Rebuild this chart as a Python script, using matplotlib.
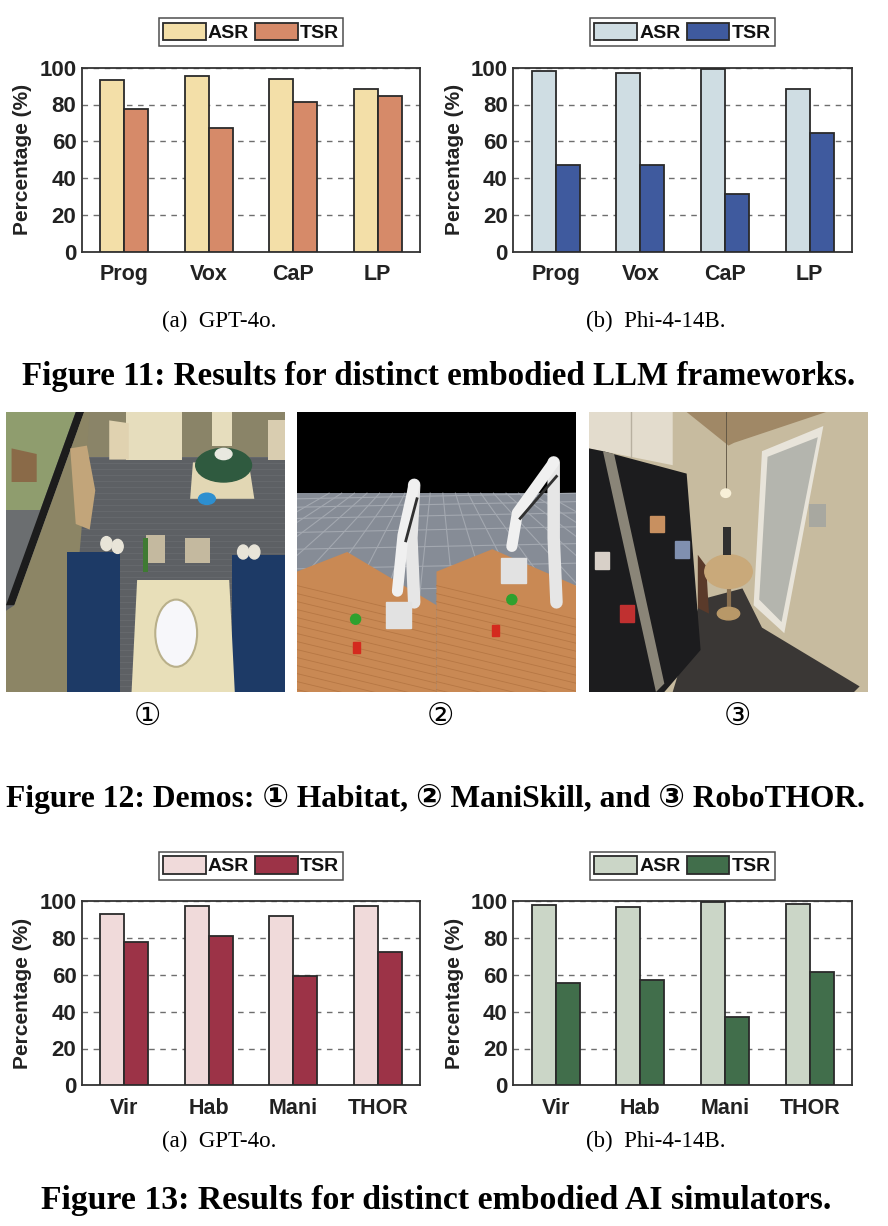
import matplotlib
matplotlib.use("Agg")
import matplotlib.pyplot as plt
from matplotlib.patches import Polygon, Ellipse, Rectangle, Circle
import numpy as np

# ---------------- data ----------------
frameworks = ["Prog", "Vox", "CaP", "LP"]
gpt_fw_asr = [93.1, 95.5, 94.0, 88.6]
gpt_fw_tsr = [77.7, 67.2, 81.2, 84.6]
phi_fw_asr = [98.2, 97.1, 99.5, 88.6]
phi_fw_tsr = [46.9, 47.1, 31.2, 64.5]

simulators = ["Vir", "Hab", "Mani", "THOR"]
gpt_sim_asr = [93.3, 97.5, 92.0, 97.6]
gpt_sim_tsr = [77.7, 81.0, 59.2, 72.5]
phi_sim_asr = [98.2, 97.1, 99.5, 98.7]
phi_sim_tsr = [55.8, 57.2, 37.1, 61.6]

yticks = [0, 20, 40, 60, 80, 100]
series_labels = ["ASR", "TSR"]

W, H = 888, 1226
fig = plt.figure(figsize=(W / 100, H / 100), dpi=100)

SANS = "Liberation Sans"
SERIF = ["Liberation Serif", "DejaVu Serif", "DejaVu Sans"]
EDGE = "#2a2a2a"


def box(x0, y0, x1, y1):
    return [x0 / W, 1 - y1 / H, (x1 - x0) / W, (y1 - y0) / H]


def bar_chart(rect, cats, asr, tsr, c_asr, c_tsr):
    ax = fig.add_axes(box(*rect))
    x = np.arange(len(cats))
    w = 0.285
    b1 = ax.bar(x - w / 2, asr, w, color=c_asr, edgecolor=EDGE, linewidth=1.3, zorder=3)
    b2 = ax.bar(x + w / 2, tsr, w, color=c_tsr, edgecolor=EDGE, linewidth=1.3, zorder=3)
    ax.set_xlim(-0.5, len(cats) - 0.5)
    ax.set_ylim(0, 100)
    ax.set_yticks(yticks)
    ax.set_xticks(x)
    ax.set_xticklabels(cats)
    ax.set_axisbelow(True)
    ax.yaxis.grid(True, linestyle=(0, (4, 4)), color="#6e6e6e", linewidth=1.0)
    for s in ax.spines.values():
        s.set_color("#333333")
        s.set_linewidth(1.3)
    ax.tick_params(length=0, pad=4, colors="#222222")
    ax.tick_params(axis="y", labelsize=16)
    ax.tick_params(axis="x", labelsize=15.5, pad=9)
    for lab in ax.get_xticklabels() + ax.get_yticklabels():
        lab.set_fontfamily(SANS)
        lab.set_fontweight("bold")
    ax.set_ylabel("Percentage (%)", fontfamily=SANS, fontweight="bold",
                  fontsize=15, color="#222222", labelpad=5)
    cx = (rect[0] + rect[2]) / 2
    leg = fig.legend([b1, b2], series_labels, loc="center",
                     bbox_to_anchor=(cx / W, 1 - (rect[1] - 35.5) / H),
                     ncol=2, frameon=True, fancybox=False, edgecolor="#222222",
                     handlelength=2.2, handleheight=1.0, handletextpad=0.12,
                     columnspacing=0.3, borderpad=0.22, borderaxespad=0,
                     prop={"family": SANS, "weight": "bold", "size": 14})
    leg.get_frame().set_linewidth(1.1)
    for t in leg.get_texts():
        t.set_color("#111111")
    return ax


bar_chart((82, 67.7, 420, 251.7), frameworks, gpt_fw_asr, gpt_fw_tsr, "#f3dfa8", "#d68a69")
bar_chart((513.3, 67.7, 852, 251.7), frameworks, phi_fw_asr, phi_fw_tsr, "#cfdde3", "#3f5a9e")
bar_chart((82, 901.3, 420, 1085.3), simulators, gpt_sim_asr, gpt_sim_tsr, "#f0dada", "#9c3347")
bar_chart((513.3, 901.3, 852, 1085.3), simulators, phi_sim_asr, phi_sim_tsr, "#cbd6c7", "#416e4b")


def ftext(x, y, s, **kw):
    fig.text(x / W, 1 - y / H, s, ha="center", va="center", **kw)


ftext(219, 321, "(a)  GPT-4o.", fontfamily=SERIF, fontsize=16.5)
ftext(656, 321, "(b)  Phi-4-14B.", fontfamily=SERIF, fontsize=16.5)
ftext(439, 377, "Figure 11: Results for distinct embodied LLM frameworks.",
      fontfamily=SERIF, fontweight="bold", fontsize=23.8)
ftext(219, 1141, "(a)  GPT-4o.", fontfamily=SERIF, fontsize=16.5)
ftext(656, 1141, "(b)  Phi-4-14B.", fontfamily=SERIF, fontsize=16.5)
ftext(436, 1201, "Figure 13: Results for distinct embodied AI simulators.",
      fontfamily=SERIF, fontweight="bold", fontsize=24.3)
ftext(147, 717, "\u2460", fontfamily=SERIF, fontsize=22)
ftext(440, 717, "\u2461", fontfamily=SERIF, fontsize=22)
ftext(737, 717, "\u2462", fontfamily=SERIF, fontsize=22)
ftext(435, 799, "Figure 12: Demos: \u2460 Habitat, \u2461 ManiSkill, and \u2462 RoboTHOR.",
      fontfamily=SERIF, fontweight="bold", fontsize=22.7)


# ---------------- demo pictures (schematic) ----------------
def panel(x0, x1):
    ax = fig.add_axes(box(x0, 412, x1, 692))
    ax.set_xlim(0, 1)
    ax.set_ylim(1, 0)
    ax.axis("off")
    return ax


def poly(ax, pts, color, z=1, **kw):
    ax.add_patch(Polygon(pts, closed=True, facecolor=color, edgecolor=kw.pop("ec", "none"),
                         zorder=z, **kw))


# Panel 1: Habitat
a = panel(6, 285)
poly(a, [(0, 0), (1, 0), (1, 1), (0, 1)], "#5d6064", 0)
for yy in np.linspace(0.16, 1, 40):
    a.plot([0.2, 1], [yy, yy], color="#676a6e", lw=0.6, zorder=0.5)
poly(a, [(0, 0), (0.25, 0), (0.0, 0.69)], "#8f9d6e", 1)
poly(a, [(0, 0.35), (0.16, 0.35), (0, 0.69)], "#6b6e70", 1.1)
poly(a, [(0.02, 0.13), (0.11, 0.15), (0.11, 0.25), (0.02, 0.25)], "#8a6a48", 1.2)
poly(a, [(0.25, 0), (1, 0), (1, 0.16), (0.27, 0.16)], "#8a8468", 1)
poly(a, [(0.43, 0), (0.63, 0), (0.63, 0.17), (0.43, 0.17)], "#e6ddbd", 1.2)
poly(a, [(0.74, 0), (0.81, 0), (0.81, 0.12), (0.74, 0.12)], "#e6ddbd", 1.2)
poly(a, [(0.37, 0.03), (0.44, 0.04), (0.44, 0.17), (0.37, 0.17)], "#e0d2b0", 1.3)
poly(a, [(0.94, 0.03), (1, 0.03), (1, 0.17), (0.94, 0.17)], "#d9cdb0", 1.3)
poly(a, [(0.25, 0), (0.28, 0), (0.03, 0.69), (0.0, 0.69)], "#1c1c1c", 2)
poly(a, [(0.28, 0), (0.30, 0), (0.27, 0.43), (0.22, 1), (0.0, 1), (0.0, 0.71), (0.03, 0.69)],
     "#8c8565", 2)
poly(a, [(0.23, 0.13), (0.29, 0.12), (0.32, 0.28), (0.30, 0.42), (0.25, 0.40)], "#c2a57a", 2.2)
poly(a, [(0.67, 0.18), (0.87, 0.18), (0.89, 0.31), (0.66, 0.31)], "#e2d7b4", 2)
a.add_patch(Ellipse((0.78, 0.19), 0.2, 0.12, color="#2f5a3f", zorder=2.3))
a.add_patch(Ellipse((0.78, 0.15), 0.06, 0.04, color="#e8e8e0", zorder=2.4))
a.add_patch(Ellipse((0.72, 0.31), 0.06, 0.04, color="#2d8fd0", zorder=2.4))
poly(a, [(0.22, 0.5), (0.41, 0.5), (0.41, 1), (0.22, 1)], "#1d3a66", 3)
poly(a, [(0.81, 0.51), (1, 0.51), (1, 1), (0.81, 1)], "#1d3a66", 3)
for (cx, cy) in [(0.36, 0.47), (0.4, 0.48), (0.85, 0.5), (0.89, 0.5)]:
    a.add_patch(Ellipse((cx, cy), 0.04, 0.05, color="#e8e4d8", zorder=3.2))
poly(a, [(0.47, 0.6), (0.8, 0.6), (0.82, 1), (0.45, 1)], "#e8dfb9", 3)
a.add_patch(Ellipse((0.61, 0.79), 0.15, 0.24, color="#f7f7fa", ec="#b9b08a", lw=1.5, zorder=3.4))
poly(a, [(0.5, 0.44), (0.57, 0.44), (0.57, 0.54), (0.5, 0.54)], "#c4b99f", 3)
poly(a, [(0.64, 0.45), (0.73, 0.45), (0.73, 0.54), (0.64, 0.54)], "#c4b99f", 3)
poly(a, [(0.49, 0.45), (0.51, 0.45), (0.51, 0.57), (0.49, 0.57)], "#3f7a33", 3.5)

# Panel 2: ManiSkill
b = panel(297, 576)
poly(b, [(0, 0), (1, 0), (1, 0.29), (0, 0.29)], "#000000", 0)
poly(b, [(0, 0.29), (1, 0.29), (1, 1), (0, 1)], "#868c96", 0)
for yy in [0.31, 0.34, 0.38, 0.43, 0.49, 0.56, 0.64]:
    b.plot([0, 1], [yy, yy - 0.02], color="#a3a8b0", lw=0.8, zorder=0.5)
for xx in np.linspace(-0.6, 1.6, 18):
    b.plot([0.5 + (xx - 0.5) * 0.35, xx], [0.29, 0.7], color="#a3a8b0", lw=0.8, zorder=0.5)
poly(b, [(0, 0.57), (0.18, 0.5), (0.5, 0.69), (0.5, 1), (0, 1)], "#c98954", 1)
poly(b, [(0.5, 0.57), (0.70, 0.49), (1.0, 0.62), (1.0, 1), (0.5, 1)], "#c98954", 1)
for k in range(14):
    t = k / 14
    b.plot([0, 0.5], [0.62 + t * 0.4, 0.74 + t * 0.4], color="#b67744", lw=0.6, zorder=1.1)
    b.plot([0.5, 1.0], [0.62 + t * 0.4, 0.74 + t * 0.4], color="#b67744", lw=0.6, zorder=1.1)
for (bx, tx, gx, gy) in [(0.42, 0.42, 0.36, 0.76), (0.93, 0.92, 0.77, 0.60)]:
    top = 0.26 if bx < 0.5 else 0.18
    b.plot([bx, bx - 0.01, tx], [0.68, 0.45, top], color="#e6e6e6", lw=9,
           solid_capstyle="round", zorder=2)
    b.plot([tx, gx + 0.02, gx], [top, top + 0.18, gy - 0.12], color="#f0f0f0", lw=8,
           solid_capstyle="round", zorder=2.2)
    b.plot([tx + 0.01, gx + 0.03], [top + 0.05, top + 0.2], color="#303030", lw=2, zorder=2.3)
    b.add_patch(Rectangle((gx - 0.04, gy - 0.08), 0.09, 0.09, color="#e2e2e2", zorder=2.4))
b.add_patch(Circle((0.21, 0.74), 0.018, color="#2fa12e", zorder=3))
b.add_patch(Circle((0.77, 0.67), 0.018, color="#2fa12e", zorder=3))
b.add_patch(Rectangle((0.20, 0.82), 0.025, 0.04, color="#d42a1e", zorder=3))
b.add_patch(Rectangle((0.70, 0.76), 0.025, 0.04, color="#d42a1e", zorder=3))

# Panel 3: RoboTHOR
c = panel(589, 868)
poly(c, [(0, 0), (1, 0), (1, 1), (0, 1)], "#c7bb9f", 0)
poly(c, [(0.35, 0), (0.85, 0), (0.52, 0.11), (0.5, 0.12)], "#a08866", 0.5)
poly(c, [(0.3, 1), (0.4, 0.67), (0.55, 0.63), (0.62, 0.77), (0.97, 0.98), (0.95, 1)],
     "#3a3735", 0.8)
poly(c, [(0, 0), (0.3, 0), (0.3, 0.19), (0, 0.13)], "#e3dccd", 1)
c.plot([0.15, 0.15], [0, 0.16], color="#b8b0a0", lw=1, zorder=1.1)
poly(c, [(0, 0.13), (0.05, 0.14), (0.35, 0.22), (0.40, 0.85), (0.27, 1.0), (0, 1.0)],
     "#1c1c1e", 2)
poly(c, [(0.05, 0.14), (0.09, 0.15), (0.27, 0.97), (0.24, 1.0)], "#8a8578", 2.1)
for (mx, my, mc) in [(0.22, 0.37, "#c89060"), (0.31, 0.46, "#8090b0"),
                     (0.02, 0.50, "#d8d0c8"), (0.11, 0.69, "#c03030")]:
    c.add_patch(Rectangle((mx, my), 0.05, 0.06, color=mc, zorder=2.2))
poly(c, [(0.62, 0.14), (0.84, 0.05), (0.70, 0.79), (0.59, 0.69)], "#e8e4da", 3)
poly(c, [(0.64, 0.16), (0.82, 0.09), (0.69, 0.75), (0.61, 0.67)], "#b4b5ae", 3.1)
poly(c, [(0.79, 0.33), (0.85, 0.33), (0.85, 0.41), (0.79, 0.41)], "#a8a8a0", 3)
c.plot([0.49, 0.49], [0, 0.28], color="#5a5040", lw=0.6, zorder=3)
c.add_patch(Ellipse((0.49, 0.29), 0.035, 0.03, color="#f8f0d8", zorder=3.2))
c.plot([0.5, 0.5], [0.58, 0.72], color="#8a7050", lw=3, zorder=3.3)
c.add_patch(Ellipse((0.5, 0.72), 0.08, 0.045, color="#b89868", zorder=3.3))
c.add_patch(Ellipse((0.5, 0.57), 0.17, 0.12, color="#c9a97a", zorder=3.4))
poly(c, [(0.48, 0.41), (0.51, 0.41), (0.51, 0.51), (0.48, 0.51)], "#303030", 3.5)
poly(c, [(0.39, 0.51), (0.42, 0.55), (0.43, 0.72), (0.39, 0.70)], "#5a3a2a", 3.35)

fig.savefig("out.png", dpi=100)
